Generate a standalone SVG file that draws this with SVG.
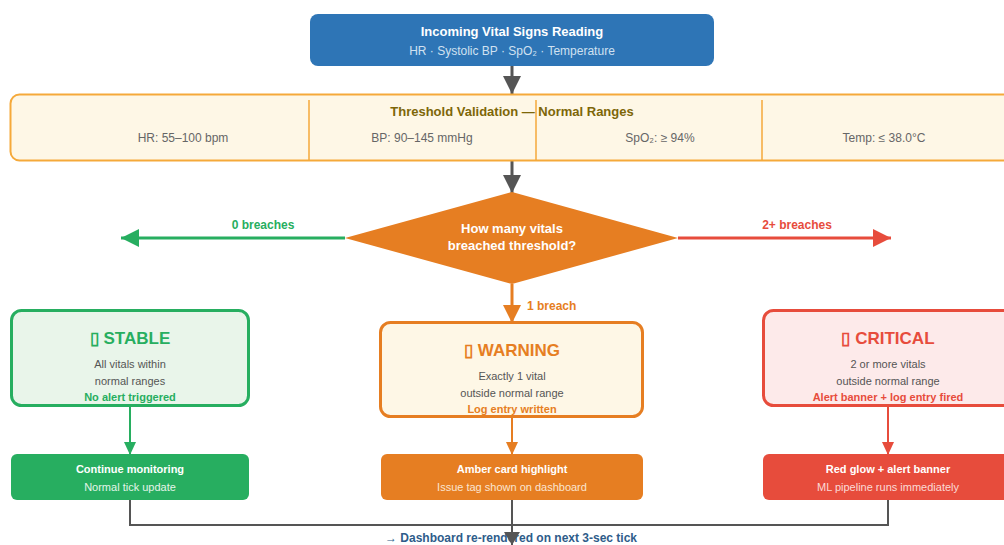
<svg xmlns="http://www.w3.org/2000/svg" width="1004" height="545" viewBox="0 0 1004 545">
<style>
text{font-family:"Liberation Sans",Arial,sans-serif;text-anchor:middle}
.b{font-weight:bold}
.w{fill:#ffffff}
.sub{fill:#d0e1f1;font-size:12px}
.cell{fill:#666666;font-size:12px}
.body{fill:#555555;font-size:11px}
.lbl{font-size:11px;font-weight:bold}
.edge{font-size:12px;font-weight:bold}
</style>
<defs>
<marker id="agr" markerWidth="20" markerHeight="18" refX="18" refY="9" orient="auto" markerUnits="userSpaceOnUse"><path d="M0,0L18,9L0,18z" fill="#27ae60"/></marker>
<marker id="are" markerWidth="20" markerHeight="18" refX="18" refY="9" orient="auto" markerUnits="userSpaceOnUse"><path d="M0,0L18,9L0,18z" fill="#e74c3c"/></marker>
<marker id="aor" markerWidth="20" markerHeight="18" refX="18" refY="9" orient="auto" markerUnits="userSpaceOnUse"><path d="M0,0L18,9L0,18z" fill="#e67e22"/></marker>
<marker id="adk" markerWidth="20" markerHeight="18" refX="18" refY="9" orient="auto" markerUnits="userSpaceOnUse"><path d="M0,0L18,9L0,18z" fill="#555555"/></marker>
<marker id="sg" markerWidth="14" markerHeight="12" refX="13" refY="6" orient="auto" markerUnits="userSpaceOnUse"><path d="M0,0L13,6L0,12z" fill="#27ae60"/></marker>
<marker id="so" markerWidth="14" markerHeight="12" refX="13" refY="6" orient="auto" markerUnits="userSpaceOnUse"><path d="M0,0L13,6L0,12z" fill="#e67e22"/></marker>
<marker id="sr" markerWidth="14" markerHeight="12" refX="13" refY="6" orient="auto" markerUnits="userSpaceOnUse"><path d="M0,0L13,6L0,12z" fill="#e74c3c"/></marker>
</defs>

<g id="connectors">
<line x1="512" y1="66" x2="512" y2="94" stroke="#555555" stroke-width="3" marker-end="url(#adk)"/>
<line x1="512" y1="161" x2="512" y2="193" stroke="#555555" stroke-width="3" marker-end="url(#adk)"/>
<line x1="345" y1="238" x2="121" y2="238" stroke="#27ae60" stroke-width="3" marker-end="url(#agr)"/>
<text x="263" y="229" class="edge" fill="#27ae60">0 breaches</text>
<line x1="678" y1="238" x2="891" y2="238" stroke="#e74c3c" stroke-width="3" marker-end="url(#are)"/>
<text x="797" y="229" class="edge" fill="#e74c3c">2+ breaches</text>
<line x1="512" y1="284" x2="512" y2="323" stroke="#e67e22" stroke-width="3" marker-end="url(#aor)"/>
<text x="527" y="310" class="edge" fill="#e67e22" style="text-anchor:start">1 breach</text>
<line x1="130" y1="406" x2="130" y2="455" stroke="#27ae60" stroke-width="2" marker-end="url(#sg)"/>
<line x1="512" y1="417" x2="512" y2="455" stroke="#e67e22" stroke-width="2" marker-end="url(#so)"/>
<line x1="888" y1="406" x2="888" y2="455" stroke="#e74c3c" stroke-width="2" marker-end="url(#sr)"/>
<polyline points="130,500 130,525 888,525 888,500" fill="none" stroke="#555555" stroke-width="2"/>
<text x="511" y="542" class="edge" fill="#2e5c8a">→ Dashboard re-rendered on next 3-sec tick</text>
<line x1="512" y1="500" x2="512" y2="546" stroke="#555555" stroke-width="2"/>
<path d="M504,532L520,532L512,545z" fill="#555555"/>
</g>

<g id="input">
<rect x="310" y="14" width="404" height="52" rx="8" fill="#2e75b6"/>
<text x="512" y="36" class="b w" font-size="13">Incoming Vital Signs Reading</text>
<text x="512" y="55" class="sub">HR · Systolic BP · SpO₂ · Temperature</text>
</g>

<g id="thresholds">
<rect x="10.5" y="94.5" width="1004" height="66" rx="9" fill="#fef7e6" stroke="#f5a93a" stroke-width="2"/>
<line x1="309" y1="100" x2="309" y2="160" stroke="#f5a93a" stroke-width="1.5"/>
<line x1="536" y1="100" x2="536" y2="160" stroke="#f5a93a" stroke-width="1.5"/>
<line x1="762" y1="100" x2="762" y2="160" stroke="#f5a93a" stroke-width="1.5"/>
<text x="512" y="116" class="b" font-size="13" fill="#7d6608">Threshold Validation — Normal Ranges</text>
<text x="183" y="142" class="cell">HR: 55–100 bpm</text>
<text x="422" y="142" class="cell">BP: 90–145 mmHg</text>
<text x="660" y="142" class="cell">SpO₂: ≥ 94%</text>
<text x="884" y="142" class="cell">Temp: ≤ 38.0°C</text>
</g>

<g id="decision">
<polygon points="512,192 678,238 512,284 345,238" fill="#e67e22"/>
<text x="512" y="233" class="b w" font-size="13">How many vitals</text>
<text x="512" y="250" class="b w" font-size="13">breached threshold?</text>
</g>

<g id="stable">
<rect x="11.5" y="310.5" width="237" height="95" rx="10" fill="#e9f5ea" stroke="#27ae60" stroke-width="3"/>
<text x="130" y="344" class="b" font-size="17" fill="#27ae60">▯ STABLE</text>
<text x="130" y="368" class="body">All vitals within</text>
<text x="130" y="385" class="body">normal ranges</text>
<text x="130" y="401" class="lbl" fill="#27ae60">No alert triggered</text>
</g>

<g id="warning">
<rect x="380.5" y="322.5" width="262" height="94" rx="10" fill="#fef7e6" stroke="#e67e22" stroke-width="3"/>
<text x="512" y="356" class="b" font-size="17" fill="#e67e22">▯ WARNING</text>
<text x="512" y="380" class="body">Exactly 1 vital</text>
<text x="512" y="397" class="body">outside normal range</text>
<text x="512" y="413" class="lbl" fill="#e67e22">Log entry written</text>
</g>

<g id="critical">
<rect x="763.5" y="310.5" width="250" height="95" rx="10" fill="#fdeaea" stroke="#e74c3c" stroke-width="3"/>
<text x="888" y="344" class="b" font-size="17" fill="#e74c3c">▯ CRITICAL</text>
<text x="888" y="368" class="body">2 or more vitals</text>
<text x="888" y="385" class="body">outside normal range</text>
<text x="888" y="401" class="lbl" fill="#e74c3c">Alert banner + log entry fired</text>
</g>

<g id="continue">
<rect x="11" y="454" width="238" height="46" rx="6" fill="#27ae60"/>
<text x="130" y="473" class="lbl w">Continue monitoring</text>
<text x="130" y="491" font-size="11" fill="#e4f5e9">Normal tick update</text>
</g>

<g id="amber">
<rect x="381" y="454" width="262" height="46" rx="6" fill="#e67e22"/>
<text x="512" y="473" class="lbl w">Amber card highlight</text>
<text x="512" y="491" font-size="11" fill="#fbe5d0">Issue tag shown on dashboard</text>
</g>

<g id="redglow">
<rect x="763" y="454" width="250" height="46" rx="6" fill="#e74c3c"/>
<text x="888" y="473" class="lbl w">Red glow + alert banner</text>
<text x="888" y="491" font-size="11" fill="#fbdad6">ML pipeline runs immediately</text>
</g>
</svg>
